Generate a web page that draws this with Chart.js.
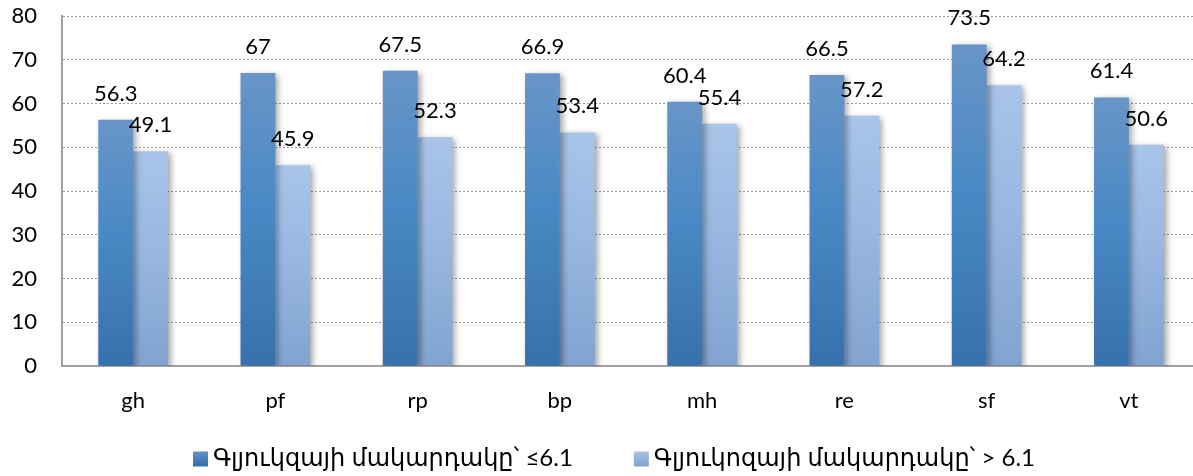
<!DOCTYPE html>
<html>
<head>
<meta charset="utf-8">
<script src="https://cdn.jsdelivr.net/npm/chart.js@4/dist/chart.umd.min.js"></script>
<style>
  html, body { margin: 0; padding: 0; background: #fff; overflow: hidden; }
  #wrap { width: 1200px; height: 476px; }
</style>
</head>
<body>
<div id="wrap"><canvas id="chart"></canvas></div>
<script>
const categories = ["gh", "pf", "rp", "bp", "mh", "re", "sf", "vt"];
const lowGlucose = [56.3, 67, 67.5, 66.9, 60.4, 66.5, 73.5, 61.4];
const highGlucose = [49.1, 45.9, 52.3, 53.4, 55.4, 57.2, 64.2, 50.6];
const seriesNames = ["Գլյուկզայի մակարդակը՝ ≤6.1", "Գլյուկոզայի մակարդակը՝ > 6.1"];
const yTicks = [0, 10, 20, 30, 40, 50, 60, 70, 80];

const FONT = "Lato, 'DejaVu Sans', sans-serif";

// top / middle / bottom colours of each series
const shades = [
  ["#6895c7", "#4a89c5", "#3671ad"],
  ["#a8c4e8", "#98b8e2", "#82a3d0"],
];

function barFill(idx) {
  return function (context) {
    const chart = context.chart;
    const y = chart.scales.y;
    if (!y || !context.parsed) return shades[idx][1];
    const top = y.getPixelForValue(context.parsed.y);
    const bottom = y.getPixelForValue(0);
    if (!isFinite(top) || !isFinite(bottom)) return shades[idx][1];
    const g = chart.ctx.createLinearGradient(0, top, 0, bottom);
    g.addColorStop(0, shades[idx][0]);
    g.addColorStop(0.45, shades[idx][1]);
    g.addColorStop(1, shades[idx][2]);
    return g;
  };
}

// soft shadow to the right of the bars
const barShadow = {
  id: "barShadow",
  beforeDatasetsDraw(chart) {
    const ctx = chart.ctx;
    ctx.save();
    ctx.shadowColor = "rgba(0,0,0,0.35)";
    ctx.shadowBlur = 6;
    ctx.shadowOffsetX = 3;
    ctx.shadowOffsetY = 2;
  },
  afterDatasetsDraw(chart) {
    chart.ctx.restore();
  },
};

// value above each bar
const valueLabels = {
  id: "valueLabels",
  afterDatasetsDraw(chart) {
    const ctx = chart.ctx;
    ctx.save();
    ctx.font = "22px " + FONT;
    ctx.fillStyle = "#000";
    ctx.textAlign = "center";
    ctx.textBaseline = "alphabetic";
    chart.data.datasets.forEach((ds, i) => {
      chart.getDatasetMeta(i).data.forEach((bar, j) => {
        ctx.fillText(String(ds.data[j]), bar.x, bar.y - 19);
      });
    });
    ctx.restore();
  },
};

// legend row under the axis
const bottomLegend = {
  id: "bottomLegend",
  afterDraw(chart) {
    const ctx = chart.ctx;
    ctx.save();
    ctx.font = "24px " + FONT;
    ctx.textBaseline = "middle";
    const box = 15, gapText = 5, gapItem = 61, y = 458;
    const widths = seriesNames.map((s) => ctx.measureText(s).width);
    const total = widths.reduce((a, w) => a + box + gapText + w, 0) + gapItem * (seriesNames.length - 1);
    let x = 614 - total / 2;
    seriesNames.forEach((name, i) => {
      const g = ctx.createLinearGradient(0, y - box / 2, 0, y + box / 2);
      g.addColorStop(0, shades[i][0]);
      g.addColorStop(1, shades[i][2]);
      ctx.fillStyle = g;
      ctx.fillRect(x, y - box / 2 + 1, box, box);
      x += box + gapText;
      ctx.fillStyle = "#000";
      ctx.fillText(name, x, y);
      x += widths[i] + gapItem;
    });
    ctx.restore();
  },
};

const ctx = document.getElementById("chart").getContext("2d");
const myChart = new Chart(ctx, {
  type: "bar",
  data: {
    labels: categories,
    datasets: [
      { label: seriesNames[0], data: lowGlucose, backgroundColor: barFill(0), borderWidth: 0 },
      { label: seriesNames[1], data: highGlucose, backgroundColor: barFill(1), borderWidth: 0 },
    ],
  },
  options: {
    responsive: true,
    maintainAspectRatio: false,
    animation: false,
    devicePixelRatio: 1,
    layout: { padding: 0 },
    datasets: {
      bar: { categoryPercentage: 0.49, barPercentage: 1 },
    },
    plugins: {
      legend: { display: false },
      tooltip: { enabled: false },
    },
    scales: {
      x: {
        grid: { display: false, drawTicks: false },
        border: { display: true, color: "#a0a0a0", width: 2 },
        ticks: { color: "#000", font: { family: FONT, size: 22 }, padding: 22 },
        afterFit(scale) { scale.height = 110; },
      },
      y: {
        min: 0,
        max: 80,
        afterBuildTicks(scale) { scale.ticks = yTicks.map((v) => ({ value: v })); },
        grid: { color: "#9a9a9a", lineWidth: 1, drawTicks: false },
        border: { display: true, color: "#a0a0a0", width: 2, dash: [2, 2] },
        ticks: { color: "#000", font: { family: FONT, size: 22 }, padding: 25 },
        afterFit(scale) {
          scale.width = 62;
          scale.paddingTop = 16;
          scale.paddingBottom = 0;
        },
      },
    },
  },
  plugins: [barShadow, valueLabels, bottomLegend],
});
</script>
</body>
</html>
